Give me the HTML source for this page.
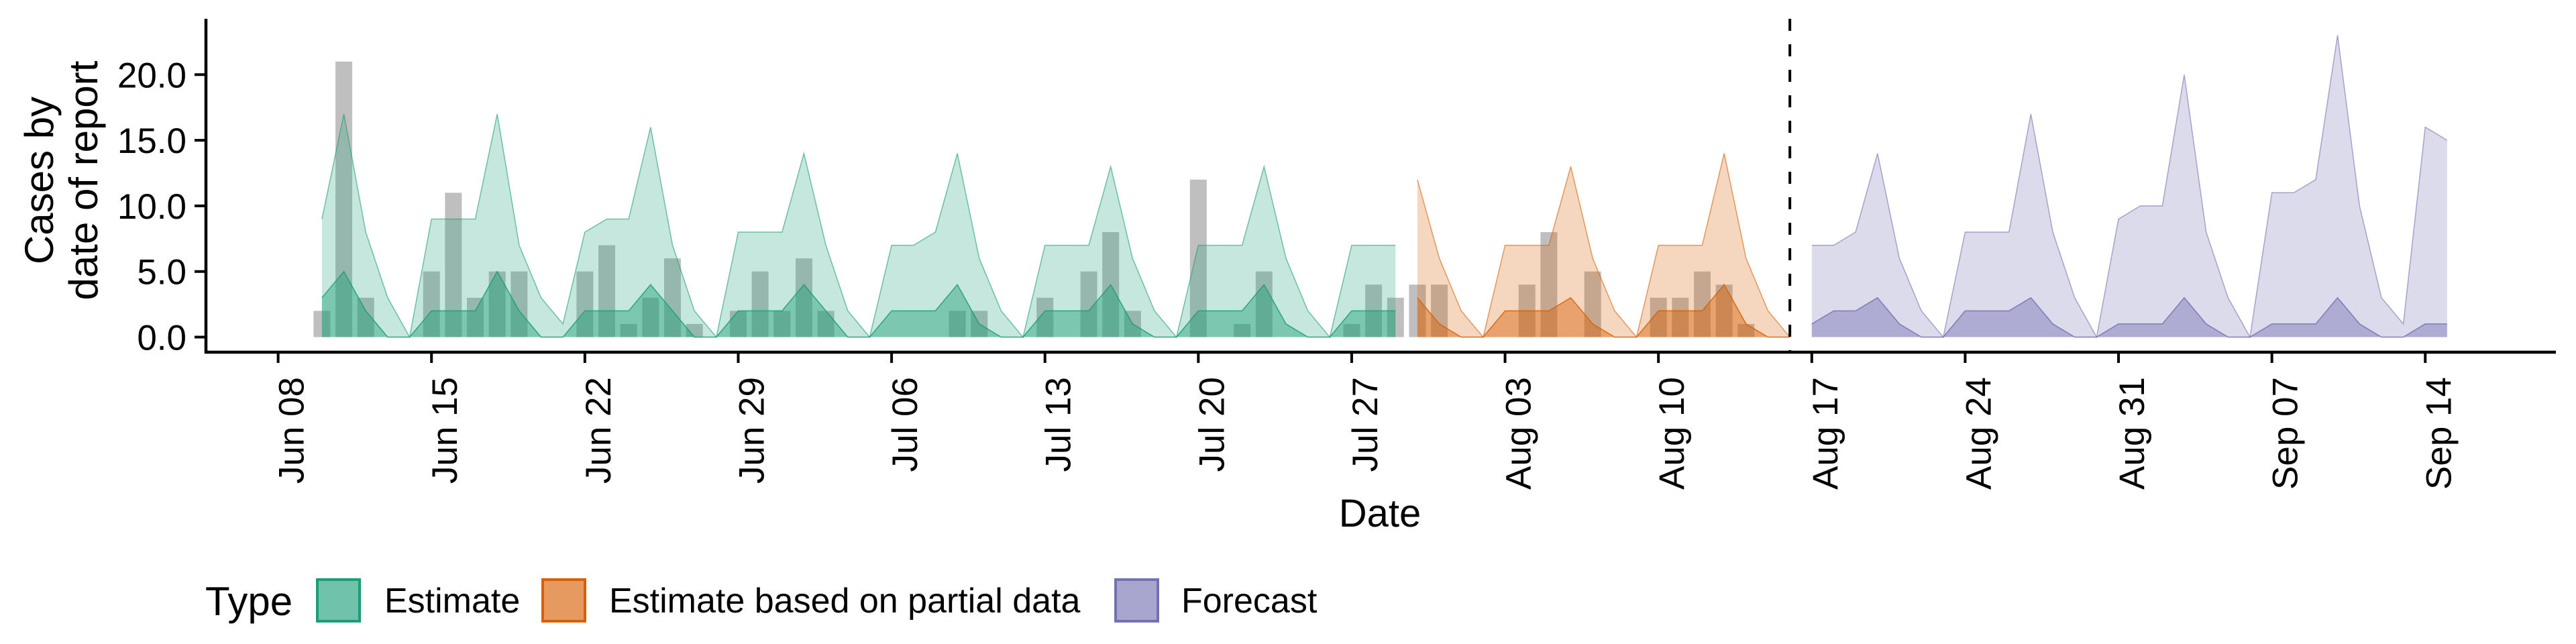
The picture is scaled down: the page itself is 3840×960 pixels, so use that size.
<!DOCTYPE html>
<html><head><meta charset="utf-8"><style>
html,body{margin:0;padding:0;background:#fff;}
svg{display:block;font-family:"Liberation Sans",Arial,sans-serif;}
</style></head><body>
<svg id="chart" width="3840" height="960" viewBox="0 0 3840 960" xmlns="http://www.w3.org/2000/svg">
<g id="plot"></g>
<g id="axes"></g>
<g font-size="60" text-anchor="middle">
  <text transform="translate(79,269) rotate(-90)">Cases by</text>
  <text transform="translate(145,269) rotate(-90)">date of report</text>
</g>
<text x="2057" y="785" font-size="58" text-anchor="middle">Date</text>
<g font-size="52">
  <text x="306" y="917" font-size="60">Type</text>
  <g>
    <rect x="473" y="864" width="63" height="62" fill="#70c2aa" stroke="#1b9e77" stroke-width="4"/>
    <text x="573" y="913">Estimate</text>
  </g>
  <g>
    <rect x="809" y="864" width="63" height="62" fill="#e69a5f" stroke="#d95f02" stroke-width="4"/>
    <text x="908" y="913">Estimate based on partial data</text>
  </g>
  <g>
    <rect x="1663" y="864" width="63" height="62" fill="#a8a5cf" stroke="#7570b3" stroke-width="4"/>
    <text x="1761" y="913">Forecast</text>
  </g>
</g>
</svg>
<script>
const reportDates = ["2020-06-10","2020-06-11","2020-06-12","2020-06-15","2020-06-16","2020-06-17","2020-06-18","2020-06-19","2020-06-22","2020-06-23","2020-06-24","2020-06-25","2020-06-26","2020-06-27","2020-06-29","2020-06-30","2020-07-01","2020-07-02","2020-07-03","2020-07-09","2020-07-10","2020-07-13","2020-07-15","2020-07-16","2020-07-17","2020-07-20","2020-07-22","2020-07-23","2020-07-27","2020-07-28","2020-07-29","2020-07-30","2020-07-31","2020-08-04","2020-08-05","2020-08-07","2020-08-10","2020-08-11","2020-08-12","2020-08-13","2020-08-14"];
const reportCases = [2,21,3,5,11,3,5,5,5,7,1,3,6,1,2,5,2,6,2,2,2,3,5,8,2,12,1,5,1,4,3,4,4,4,8,5,3,3,5,4,1];
const estimateStart = "2020-06-10";
const estimateUpper90 = [9,17,8,3,0,9,9,9,17,7,3,1,8,9,9,16,7,2,0,8,8,8,14,7,2,0,7,7,8,14,6,2,0,7,7,7,13,6,2,0,7,7,7,13,6,2,0,7,7,7];
const estimateUpper50 = [3,5,2,0,0,2,2,2,5,2,0,0,2,2,2,4,2,0,0,2,2,2,4,2,0,0,2,2,2,4,1,0,0,2,2,2,4,1,0,0,2,2,2,4,1,0,0,2,2,2];
const partialStart = "2020-07-30";
const partialUpper90 = [12,6,2,0,7,7,7,13,6,2,0,7,7,7,14,6,2,0];
const partialUpper50 = [3,1,0,0,2,2,2,3,1,0,0,2,2,2,4,1,0,0];
const forecastStart = "2020-08-17";
const forecastUpper90 = [7,7,8,14,6,2,0,8,8,8,17,8,3,0,9,10,10,20,8,3,0,11,11,12,23,10,3,1,16,15];
const forecastUpper50 = [1,2,2,3,1,0,0,2,2,2,3,1,0,0,1,1,1,3,1,0,0,1,1,1,3,1,0,0,1,1];
const xTickLabels = ["Jun 08","Jun 15","Jun 22","Jun 29","Jul 06","Jul 13","Jul 20","Jul 27","Aug 03","Aug 10","Aug 17","Aug 24","Aug 31","Sep 07","Sep 14"];
const xTickDates = ["2020-06-08","2020-06-15","2020-06-22","2020-06-29","2020-07-06","2020-07-13","2020-07-20","2020-07-27","2020-08-03","2020-08-10","2020-08-17","2020-08-24","2020-08-31","2020-09-07","2020-09-14"];
const yTickValues = [0,5,10,15,20];
const yTickLabels = ["0.0","5.0","10.0","15.0","20.0"];
const forecastDate = "2020-08-16";

const NS = "http://www.w3.org/2000/svg";
const DAY = 86400000, T0 = Date.UTC(2020,5,8);
function dayOf(s){const p=s.split("-");return (Date.UTC(+p[0],+p[1]-1,+p[2])-T0)/DAY;}
function xs(d){return 414.6 + d*32.66;}
function ys(v){return 502.5 - v*19.56;}
function mk(tag, attrs, parent){const e=document.createElementNS(NS,tag);for(const k in attrs)e.setAttribute(k,attrs[k]);parent.appendChild(e);return e;}
const plot=document.getElementById("plot"), axes=document.getElementById("axes");

// bars
reportDates.forEach((d,i)=>{
  const x=xs(dayOf(d));
  const r=mk("rect",{x:x-12.5,y:ys(reportCases[i]),width:25,height:ys(0)-ys(reportCases[i]),fill:"#808080","fill-opacity":0.5},plot);
  
  
});

function ribbon(start, vals, color, name){
  const d0=dayOf(start);
  let pts=vals.map((v,i)=>xs(d0+i).toFixed(1)+","+ys(v).toFixed(1));
  const poly=pts.join(" ")+" "+xs(d0+vals.length-1).toFixed(1)+","+ys(0)+" "+xs(d0).toFixed(1)+","+ys(0);
  const p=mk("polygon",{points:poly,fill:color,"fill-opacity":0.25},plot);
  
  
  const l=mk("polyline",{points:pts.join(" "),fill:"none",stroke:color,"stroke-width":1.5,"stroke-opacity":0.6},plot);
  
  
}
ribbon(estimateStart, estimateUpper90, "#1b9e77", "estimate-ribbon-90");
ribbon(estimateStart, estimateUpper50.map(v=>v), "#1b9e77", "estimate-ribbon-50");
ribbon(estimateStart, estimateUpper50, "#1b9e77", "estimate-ribbon-50b");
ribbon(partialStart, partialUpper90, "#d95f02", "partial-ribbon-90");
ribbon(partialStart, partialUpper50, "#d95f02", "partial-ribbon-50");
ribbon(partialStart, partialUpper50, "#d95f02", "partial-ribbon-50b");
ribbon(forecastStart, forecastUpper90, "#7570b3", "forecast-ribbon-90");
ribbon(forecastStart, forecastUpper50, "#7570b3", "forecast-ribbon-50");
ribbon(forecastStart, forecastUpper50, "#7570b3", "forecast-ribbon-50b");

// forecast divider
const fx=xs(dayOf(forecastDate));
const dl=mk("line",{x1:fx,x2:fx,y1:28,y2:525,stroke:"#000","stroke-width":4,"stroke-dasharray":"18,20"},plot);



// axes
const ya=mk("line",{x1:307,x2:307,y1:28,y2:527,stroke:"#000","stroke-width":4.5},axes);


const xa=mk("line",{x1:305,x2:3810,y1:525,y2:525,stroke:"#000","stroke-width":4.5},axes);


yTickValues.forEach((v,i)=>{
  const y=ys(v);
  const t=mk("line",{x1:290,x2:307,y1:y,y2:y,stroke:"#000","stroke-width":4},axes);
  
  
  const tx=mk("text",{x:278,y:y+19,"font-size":53,"text-anchor":"end"},axes);
  tx.textContent=yTickLabels[i];
  
  
});
xTickDates.forEach((d,i)=>{
  const x=xs(dayOf(d));
  const t=mk("line",{x1:x,x2:x,y1:525,y2:541,stroke:"#000","stroke-width":4},axes);
  
  
  const tx=mk("text",{transform:"translate("+(x+38)+",562) rotate(-90)","font-size":53,"text-anchor":"end"},axes);
  tx.textContent=xTickLabels[i];
  
  
});
</script>
</body></html>
